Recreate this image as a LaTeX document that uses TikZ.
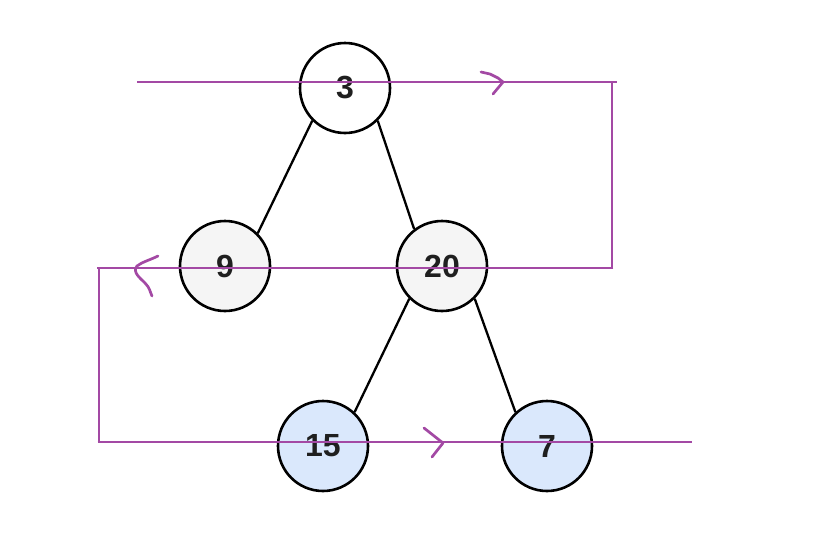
\documentclass[tikz,border=0pt]{standalone}
\usepackage{fontspec}
\setmainfont{Liberation Sans}
\begin{document}
\begin{tikzpicture}[x=1pt,y=-1pt,
  tnode/.style={circle,draw=black,line width=2.6pt,minimum size=90pt,inner sep=0pt,
    font=\fontsize{32}{32}\selectfont\bfseries,text=black!88},
  edge/.style={draw=black,line width=2.3pt},
  trail/.style={draw=purp,line width=2.7pt},
  hand/.style={draw=purp,line width=2.7pt,line cap=round,line join=round}]
\definecolor{purp}{HTML}{A349A4}
\definecolor{greyfill}{HTML}{F5F5F5}
\definecolor{bluefill}{HTML}{DAE8FC}
\useasboundingbox (0,0) rectangle (814,552);
\fill[white] (0,0) rectangle (814,552);
\node[tnode,fill=white] (n3) at (345,88) {3};
\node[tnode,fill=greyfill] (n9) at (225,266) {9};
\node[tnode,fill=greyfill] (n20) at (442,266) {20};
\node[tnode,fill=bluefill] (n15) at (323,446) {15};
\node[tnode,fill=bluefill] (n7) at (547,446) {7};
\draw[edge] (n3.-135) -- (n9.45);
\draw[edge] (n3.-45) -- (n20.127);
\draw[edge] (n20.-135) -- (n15.47);
\draw[edge] (n20.-45) -- (n7.133);
\coordinate (a0) at (137,82);
\coordinate (a1) at (617,82);
\coordinate (a2) at (612,82);
\coordinate (a3) at (612,268);
\coordinate (b0) at (97,268);
\coordinate (b1) at (99,268);
\coordinate (b2) at (99,442);
\coordinate (b3) at (692,442);
\draw[trail] (a0) -- (a1);
\draw[trail] (a2) -- (a3);
\draw[trail] (613.3,268) -- (b0);
\draw[trail] (b1) -- (b2);
\draw[trail] (97.7,442) -- (b3);
% hand-drawn arrowheads
\draw[hand] (481,72) -- (490,74) -- (498,78) -- (503,82) -- (493,94);
\draw[hand] (424,428) -- (443,443) -- (432,457);
\draw[hand] (158,256) .. controls (150,260) and (142,262) .. (137,266)
  .. controls (132,272) and (140,278) .. (145,283) .. controls (150,288) and (150,292) .. (152,296);
\end{tikzpicture}
\end{document}
